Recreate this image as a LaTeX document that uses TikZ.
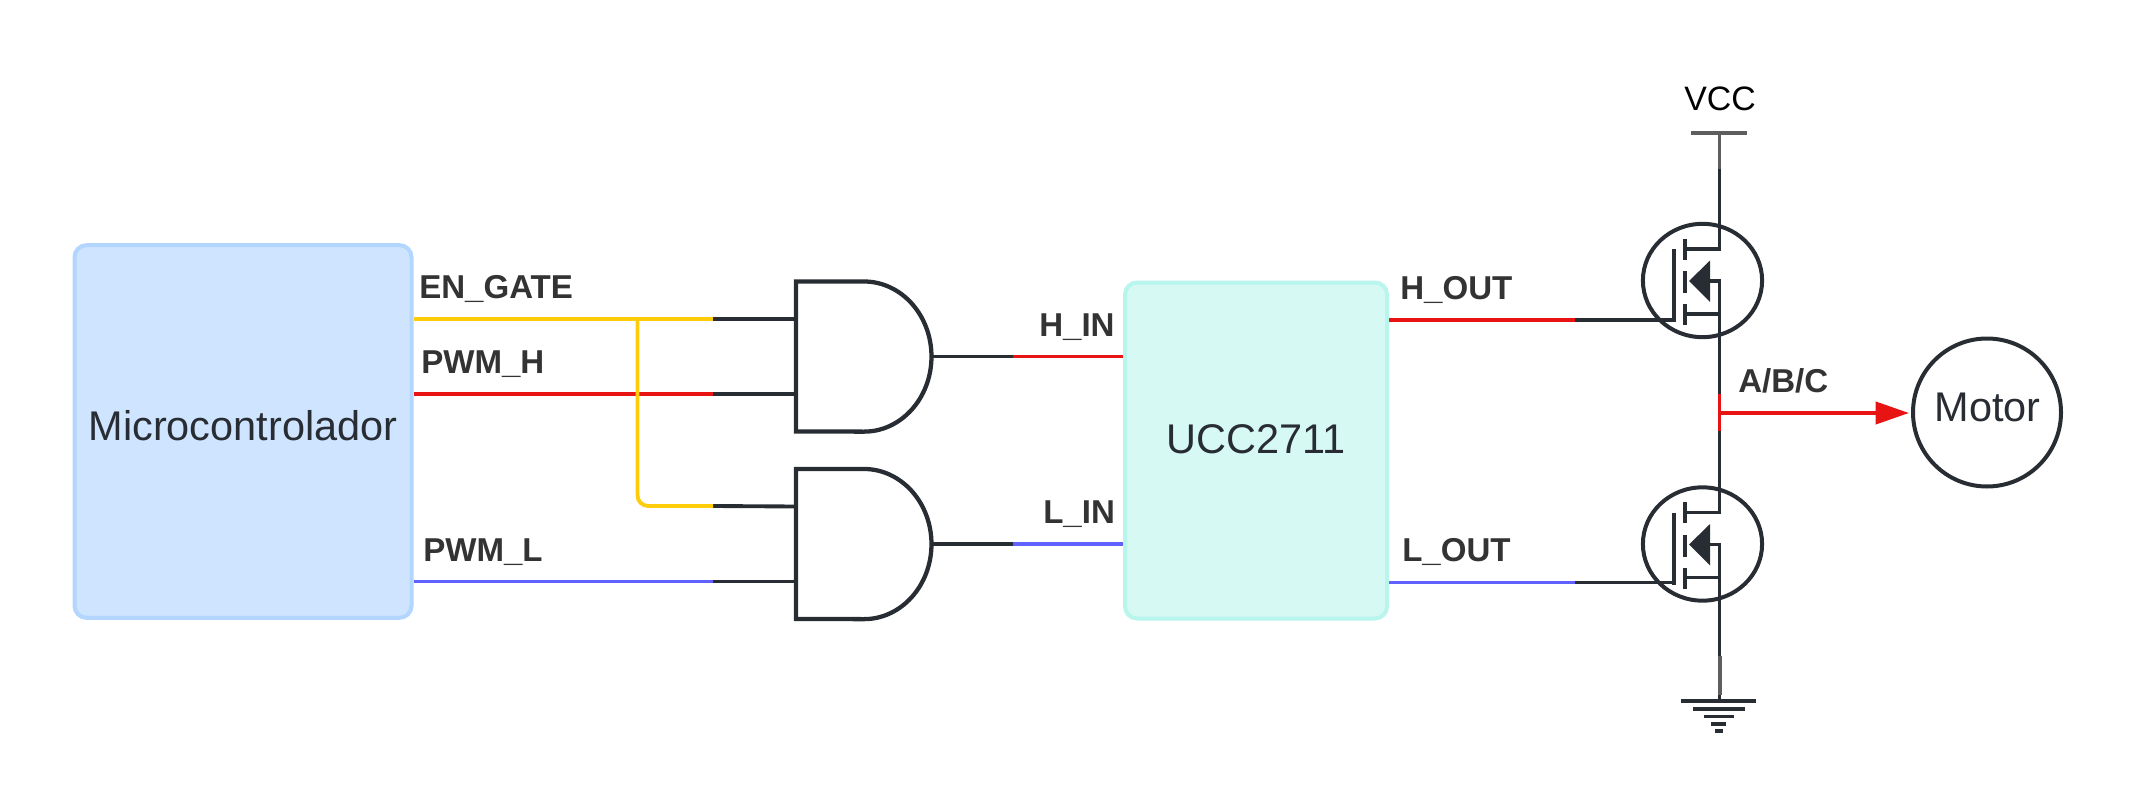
\documentclass[tikz,border=0pt]{standalone}
\usepackage{fontspec}
\setmainfont{Liberation Sans}
\usetikzlibrary{arrows.meta, positioning}
\definecolor{inkdark}{HTML}{282C33}
\definecolor{inkgray}{HTML}{5E5E5E}
\definecolor{inklabel}{HTML}{333333}
\definecolor{sigyellow}{HTML}{FFCC0A}
\definecolor{sigred}{HTML}{E81313}
\definecolor{sigblue}{HTML}{6161FF}
\definecolor{microfill}{HTML}{CFE4FF}
\definecolor{microline}{HTML}{B2D6FF}
\definecolor{uccfill}{HTML}{D6F9F3}
\definecolor{uccline}{HTML}{B8F5ED}
\tikzset{
  wire/.style={line width=2.9pt, inkdark},
  stem/.style={line width=2.6pt, inkdark},
  thinwire/.style={line width=2.4pt},
  block/.style={draw, line width=3pt, rounded corners=9pt, inner sep=0pt},
  bigtext/.style={font=\fontsize{31.1}{36}\selectfont, text=inkdark, inner sep=0pt},
  siglabel/.style={font=\fontsize{24.8}{29}\selectfont\bfseries, text=inklabel, anchor=base west, inner sep=0pt},
  andgate/.pic={
    \draw[line width=3.2pt, inkdark, miter limit=10]
      (0,-75) -- (68,-75) arc[start angle=90, end angle=-90, x radius=50.6pt, y radius=56.3pt] -- (0,75) -- cycle;
    \coordinate (-in1) at (0,-37.5);
    \coordinate (-in2) at (0,37.5);
    \coordinate (-out) at (136,0);
  },
  mosfet/.pic={
    \draw[line width=3pt, inkdark] (0,0) ellipse [x radius=44.7pt, y radius=42.5pt];
    \draw[wire] (-28.5,-31.5) -- (-28.5,41);
    \draw[wire] (-17.5,-42) -- (-17.5,-21);
    \draw[wire] (-17.5,-9.5) -- (-17.5,12.5);
    \draw[wire] (-17.5,23.5) -- (-17.5,44.5);
    \draw[wire] (-17.5,-31.5) -- (18.7,-31.5);
    \draw[wire] (-17.5,33.5) -- (18.7,33.5);
    \draw[wire] (7.5,0.5) -- (18.7,0.5);
    \fill[inkdark] (-13.5,0.5) -- (7.5,-20) -- (7.5,21.5) -- cycle;
    \coordinate (-gate) at (-28.5,39.5);
    \coordinate (-drain) at (17,-33);
    \coordinate (-body) at (17,-0.9);
    \coordinate (-source) at (17,33.5);
  }
}

\begin{document}
\begin{tikzpicture}[x=0.75pt, y=-0.75pt]
\useasboundingbox (0,0) rectangle (2138,806);

% --- Blocks ---
\node[block, fill=microfill, draw=microline, minimum width=252.75pt, minimum height=279.5pt] (micro) at (243,431.5) {};
\node[bigtext] (microtxt) at (243,426) {Microcontrolador};
\node[block, fill=uccfill, draw=uccline, minimum width=196.5pt, minimum height=252pt] (ucc) at (1256,450.5) {};
\node[bigtext] (ucctxt) at (1256,439) {UCC2711};
\node[circle, draw=inkdark, line width=3pt, minimum size=111pt, inner sep=0pt] (motor) at (1987,412.5) {};
\node[bigtext] (motortxt) at (1987.5,407) {Motor};

% --- Gates and transistors ---
\pic (gH) at (796,356.5) {andgate};
\pic (gL) at (796,544) {andgate};
\pic (qH) at (1702.5,280.5) {mosfet};
\pic (qL) at (1702.5,544) {mosfet};

% --- Split points on the wires ---
\coordinate (enH) at (713,319);
\coordinate (enL) at (713,506);
\coordinate (enT) at (637.5,319);
\coordinate (pwmH) at (713,394);
\coordinate (pwmL) at (713,581.5);
\coordinate (hin) at (1013,356.5);
\coordinate (lin) at (1013,544);
\coordinate (hout) at (1575,320);
\coordinate (lout) at (1575,582.5);
\coordinate (vccB) at (1719.5,169);
\coordinate (vccT) at (1719.5,133);
\coordinate (vccL) at (1691,133);
\coordinate (vccR) at (1747,133);
\coordinate (midT) at (1719.5,394);
\coordinate (midB) at (1719.5,431);
\coordinate (midO) at (1719.5,413);
\coordinate (gndA) at (1719.5,656);
\coordinate (gndB) at (1719.5,695);
\coordinate (gndC) at (1719.5,700);

% --- Microcontroller to gates ---
\draw[wire] (enH) -- (gH-in1);
\draw[wire] (pwmH) -- (gH-in2);
\draw[wire] (enL) -- (gL-in1);
\draw[wire] (pwmL) -- (gL-in2);
\draw[wire, sigred] (micro.east |- pwmH) -- (pwmH);
\draw[wire, sigyellow] (micro.east |- enH) -- (enH);
\draw[wire, sigyellow, rounded corners=8pt] (enT) |- (enL);
\draw[wire, sigblue] (micro.east |- pwmL) -- (pwmL);

% --- Gates to driver ---
\draw[wire] (gH-out) -- (hin);
\draw[wire] (gL-out) -- (lin);
\draw[thinwire, sigred] (hin) -- (ucc.west |- hin);
\draw[wire, sigblue] (lin) -- (ucc.west |- lin);

% --- Driver to transistors ---
\draw[wire, sigred] (ucc.east |- hout) -- (hout);
\draw[thinwire, sigblue] (ucc.east |- lout) -- (lout);
\draw[thinwire, inkdark, line join=miter] (hout) -| (qH-gate);
\draw[thinwire, inkdark, line join=miter] (lout) -| (qL-gate);

% --- Half bridge ---
\draw[stem] (vccB) -- (qH-drain);
\draw[stem] (qH-body) -- (midT);
\draw[stem] (midB) -- (qL-drain);
\draw[stem] (qL-body) -- (gndA);
\draw[wire, inkgray] (vccL) -- (vccR);
\draw[wire, inkgray] (vccT) -- (vccB);
\draw[wire, inkgray, line width=3pt] (gndA) -- (gndB);
\draw[wire] (gndB) -- (gndC);

% --- Ground bars ---
\draw[inkdark, line width=2.6pt] (1681,701) -- (1756,701);
\draw[inkdark, line width=2.8pt] (1693,709) -- (1745,709);
\draw[inkdark, line width=2.4pt] (1704,716.5) -- (1734,716.5);
\draw[inkdark, line width=2.6pt] (1711,724) -- (1726,724);
\draw[inkdark, line width=2.4pt] (1715,731) -- (1723,731);

% --- Output to motor ---
\draw[wire, sigred] (midT) -- (midB);
\draw[wire, sigred, -{Triangle[length=25pt, width=16.5pt]}] (midO) -- (1909,413);

% --- Labels ---
\node[font=\fontsize{25.4}{29}\selectfont, text=black, inner sep=0pt] (vcc) at (1720,99) {VCC};
\node[siglabel] (lblEn) at (419,298) {EN\_GATE};
\node[siglabel] (lblPwmH) at (421,373) {PWM\_H};
\node[siglabel] (lblPwmL) at (423,561) {PWM\_L};
\node[siglabel] (lblHin) at (1039,336) {H\_IN};
\node[siglabel] (lblLin) at (1043,523) {L\_IN};
\node[siglabel] (lblHout) at (1400,299) {H\_OUT};
\node[siglabel] (lblLout) at (1402,561) {L\_OUT};
\node[siglabel] (lblOut) at (1738,392) {A/B/C};

\end{tikzpicture}
\end{document}
